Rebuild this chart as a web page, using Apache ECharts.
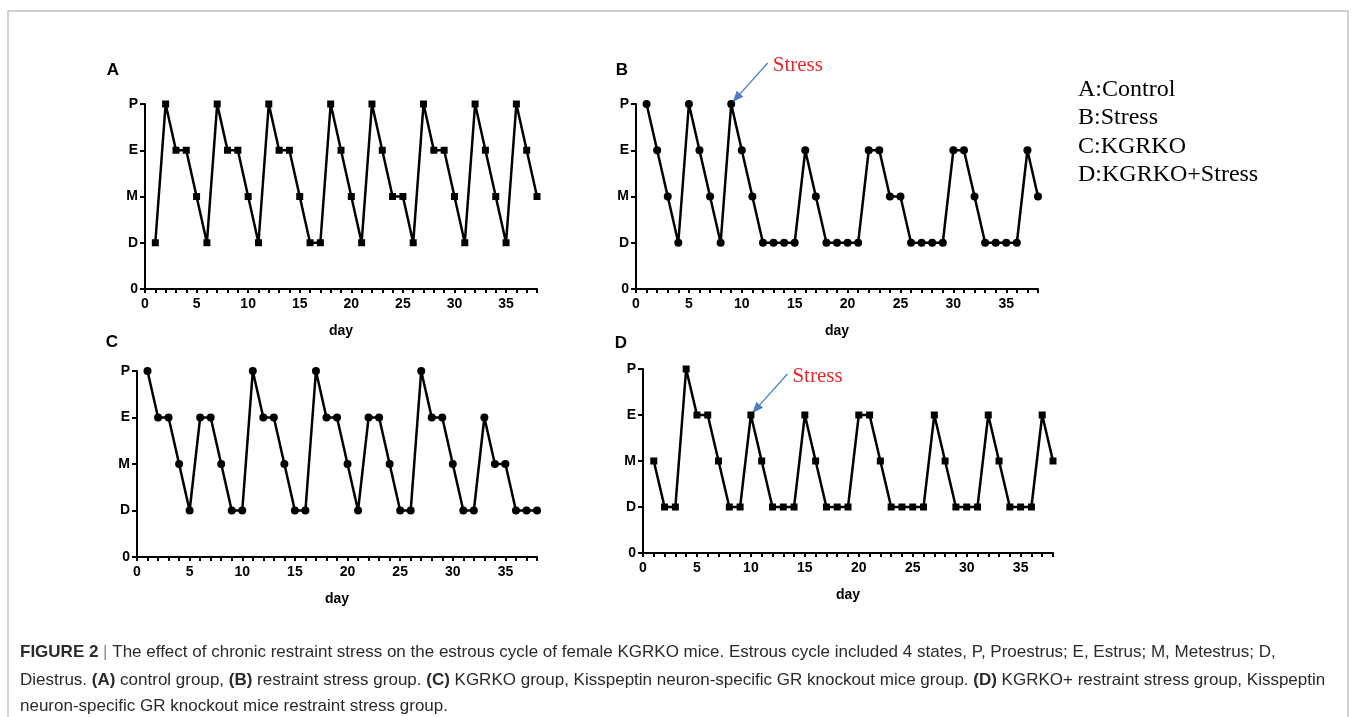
<!DOCTYPE html>
<html>
<head>
<meta charset="utf-8">
<script src="https://cdn.jsdelivr.net/npm/echarts@6/dist/echarts.min.js"></script>
<style>
  html, body { margin: 0; padding: 0; background: #fff; }
  #main { width: 1356px; height: 717px; }
</style>
</head>
<body>
<div id="main"></div>
<script>
// estrous state per day (days 1..38)
var yLabels = ["0", "D", "M", "E", "P"];
var days = [];
for (var d = 1; d <= 38; d++) days.push(d);

var controlStates = ["D","P","E","E","M","D","P","E","E","M","D","P","E","E","M","D","D","P","E","M",
                     "D","P","E","M","M","D","P","E","E","M","D","P","E","M","D","P","E","M"];
var stressStates  = ["P","E","M","D","P","E","M","D","P","E","M","D","D","D","D","E","M","D","D","D",
                     "D","E","E","M","M","D","D","D","D","E","E","M","D","D","D","D","E","M"];
var kgrkoStates   = ["P","E","E","M","D","E","E","M","D","D","P","E","E","M","D","D","P","E","E","M",
                     "D","E","E","M","D","D","P","E","E","M","D","D","E","M","M","D","D","D"];
var kgrkoStressStates = ["M","D","D","P","E","E","M","D","D","E","M","D","D","D","E","M","D","D","D","E",
                         "E","M","D","D","D","D","E","M","D","D","D","E","M","D","D","D","E","M"];

var panelLetters = ["A", "B", "C", "D"];
var legendLines = ["A:Control", "B:Stress", "C:KGRKO", "D:KGRKO+Stress"];
var stressDay = [null, 9, null, 10]; // where the "Stress" arrow points

var dom = document.getElementById("main");
var myChart = echarts.init(dom);

function toPairs(states) {
    return days.map(function (d, i) { return [d, yLabels.indexOf(states[i])]; });
}

var axisFont = "'Liberation Sans Narrow', 'Liberation Sans', Arial, sans-serif";
var grids = [
    { left: 145, top: 104, width: 392, height: 185 },
    { left: 636, top: 104, width: 402, height: 185 },
    { left: 137, top: 371, width: 400, height: 186 },
    { left: 643, top: 369, width: 410, height: 184 }
];
var allStates = [controlStates, stressStates, kgrkoStates, kgrkoStressStates];
var symbols = ["rect", "circle", "circle", "rect"];

var xAxes = [], yAxes = [], series = [];
grids.forEach(function (g, i) {
    xAxes.push({
        gridIndex: i, type: "value", min: 0, max: 38, interval: 1,
        name: "day", nameLocation: "middle", nameGap: 35,
        nameTextStyle: { fontFamily: axisFont, fontWeight: "bold", fontSize: 14, color: "#000" },
        axisLine: { lineStyle: { color: "#000", width: 2 } },
        axisTick: { length: 4, lineStyle: { color: "#000", width: 2 } },
        axisLabel: {
            margin: 8, fontFamily: axisFont, fontWeight: "bold", fontSize: 14, color: "#000",
            formatter: function (v) { return v % 5 === 0 ? String(v) : ""; }
        },
        splitLine: { show: false }
    });
    yAxes.push({
        gridIndex: i, type: "value", min: 0, max: 4, interval: 1,
        axisLine: { show: true, lineStyle: { color: "#000", width: 2 } },
        axisTick: { show: true, length: 5, lineStyle: { color: "#000", width: 2 } },
        axisLabel: {
            margin: 7, fontFamily: axisFont, fontWeight: "bold", fontSize: 14, color: "#000",
            formatter: function (v) { return yLabels[v]; }
        },
        splitLine: { show: false }
    });
    series.push({
        type: "line", xAxisIndex: i, yAxisIndex: i,
        data: toPairs(allStates[i]),
        symbol: symbols[i], symbolSize: symbols[i] === "rect" ? 7 : 8,
        itemStyle: { color: "#000" },
        lineStyle: { color: "#000", width: 2.5 },
        clip: false, animation: false
    });
});

var letterPos = [[113, 70], [622, 70], [112, 342], [621, 343]];
var graphics = [];
// frame
graphics.push({
    type: "polyline", silent: true,
    shape: { points: [[8, 717], [8, 11], [1348, 11], [1348, 717]] },
    style: { stroke: "#c4c4c4", lineWidth: 1.5, fill: null }
});
panelLetters.forEach(function (t, i) {
    graphics.push({
        type: "text", x: letterPos[i][0], y: letterPos[i][1],
        style: { text: t, fontFamily: "'Liberation Sans', Arial, sans-serif", fontWeight: "bold",
                 fontSize: 17, fill: "#000", align: "center", verticalAlign: "middle" }
    });
});
legendLines.forEach(function (t, i) {
    graphics.push({
        type: "text", x: 1078, y: [90, 118, 147, 175][i],
        style: { text: t, fontFamily: "'Liberation Serif', 'Times New Roman', serif",
                 fontSize: 24, fill: "#000", verticalAlign: "middle" }
    });
});

// caption
var capFont = "'Liberation Sans', Arial, sans-serif";
var capRich = {
    b: { fontFamily: capFont, fontWeight: "bold", fontSize: 17, fill: "#2a2a2a" },
    n: { fontFamily: capFont, fontSize: 17, fill: "#2a2a2a" },
    bar: { fontFamily: capFont, fontSize: 17, fill: "#888" }
};
var captionLines = [
    "{b|FIGURE 2}{bar| | }{n|The effect of chronic restraint stress on the estrous cycle of female KGRKO mice. Estrous cycle included 4 states, P, Proestrus; E, Estrus; M, Metestrus; D,}",
    "{n|Diestrus. }{b|(A)}{n| control group, }{b|(B)}{n| restraint stress group. }{b|(C)}{n| KGRKO group, Kisspeptin neuron-specific GR knockout mice group. }{b|(D)}{n| KGRKO+ restraint stress group, Kisspeptin}",
    "{n|neuron-specific GR knockout mice restraint stress group.}"
];
captionLines.forEach(function (t, i) {
    graphics.push({
        type: "text", x: 20, y: [652, 680, 706][i],
        style: { text: t, rich: capRich, verticalAlign: "middle" }
    });
});

option = {
    backgroundColor: "#fff",
    animation: false,
    grid: grids,
    xAxis: xAxes,
    yAxis: yAxes,
    series: series,
    graphic: graphics
};
myChart.setOption(option, true);

// "Stress" arrows placed from the data points they point at
var arrowColor = "#4a80c4";
stressDay.forEach(function (day, i) {
    if (day === null) return;
    var val = yLabels.indexOf(allStates[i][day - 1]);
    var p = myChart.convertToPixel({ gridIndex: i }, [day, val]);
    var tip = [p[0] + 1.5, p[1] - 2];
    var tail = [tip[0] + 35, tip[1] - 39];
    var dx = tip[0] - tail[0], dy = tip[1] - tail[1];
    var len = Math.sqrt(dx * dx + dy * dy);
    var ux = dx / len, uy = dy / len;
    var hl = 11, hw = 4.5;
    var base = [tip[0] - ux * hl, tip[1] - uy * hl];
    graphics.push({
        type: "line", shape: { x1: tail[0], y1: tail[1], x2: base[0], y2: base[1] },
        style: { stroke: arrowColor, lineWidth: 1.3 }
    });
    graphics.push({
        type: "polygon",
        shape: { points: [tip, [base[0] - uy * hw, base[1] + ux * hw], [base[0] + uy * hw, base[1] - ux * hw]] },
        style: { fill: arrowColor }
    });
    graphics.push({
        type: "text", x: tail[0] + 5, y: tail[1] + 2,
        style: { text: "Stress", fontFamily: "'Liberation Serif', 'Times New Roman', serif",
                 fontSize: 21, fill: "#e8282d", verticalAlign: "middle" }
    });
});
myChart.setOption({ graphic: graphics }, false);
</script>
</body>
</html>
